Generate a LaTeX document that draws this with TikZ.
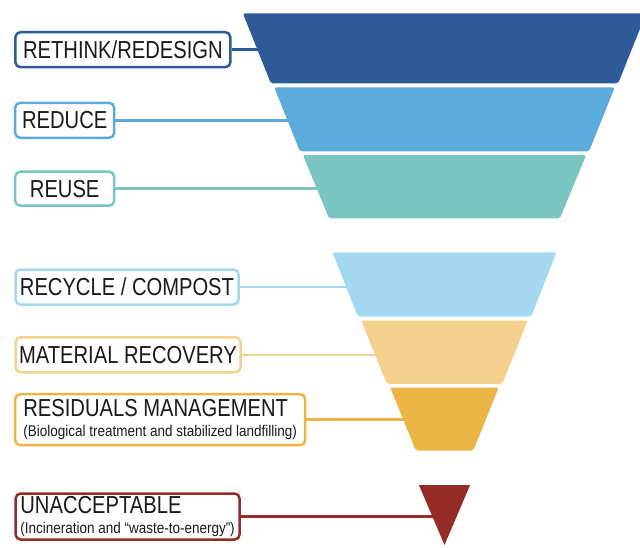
\documentclass[tikz,border=0pt]{standalone}
\usepackage{fontspec}
\setmainfont{Liberation Sans}
\newfontfamily\tierfont[FakeStretch=0.82]{Liberation Sans}
\newfontfamily\notefont[FakeStretch=0.87]{Liberation Sans}
\definecolor{whnavy}{HTML}{2D5B98}
\definecolor{whblue}{HTML}{5BABDB}
\definecolor{whteal}{HTML}{7AC5C1}
\definecolor{whsky}{HTML}{A4D8F0}
\definecolor{whsand}{HTML}{F5D18E}
\definecolor{whgold}{HTML}{EBB545}
\definecolor{whred}{HTML}{952B26}
\definecolor{whink}{HTML}{1A1A1A}

\begin{document}
\begin{tikzpicture}[
  x=1pt, y=-1pt,
  tierbox/.style={rectangle, rounded corners=5pt, draw=#1, fill=white, line width=2.5pt, inner sep=0pt, align=center, text=whink, font=\tierfont\fontsize{24.6}{28}\selectfont},
  tierline/.style={draw=#1, line width=2.5pt},
]
\clip (0,0) rectangle (640,548);

% Label boxes
\node[tierbox=whnavy, minimum width=215pt, minimum height=35pt] (t1) at (122.9, 49.7) {RETHINK/REDESIGN};
\node[tierbox=whblue, minimum width=99pt, minimum height=35pt] (t2) at (64.7, 120.3) {REDUCE};
\node[tierbox=whteal, minimum width=99pt, minimum height=34pt] (t3) at (64.7, 188.7) {REUSE};
\node[tierbox=whsky, minimum width=223pt, minimum height=35pt] (t4) at (127, 287) {RECYCLE / COMPOST};
\node[tierbox=whsand, minimum width=225pt, minimum height=35pt] (t5) at (128, 354.8) {MATERIAL RECOVERY};
\node[tierbox=whgold, minimum width=290pt, minimum height=51pt, align=left] (t6) at (160.2, 419.7)
  {RESIDUALS MANAGEMENT\\[-8pt]{\notefont\fontsize{15.5}{17}\selectfont (Biological treatment and stabilized landfilling)}};
\node[tierbox=whred, minimum width=224pt, minimum height=46pt, align=left] (t7) at (127.6, 516.5)
  {UNACCEPTABLE\\[-8pt]{\notefont\fontsize{15.5}{17}\selectfont (Incineration and “waste-to-energy”)}};

% Ends of the connectors, just inside the funnel
\coordinate (e1) at (261, 49.7);
\coordinate (e2) at (291, 120.3);
\coordinate (e3) at (320, 188.7);
\coordinate (e4) at (350, 287);
\coordinate (e5) at (379, 354.8);
\coordinate (e6) at (407, 419.7);
\coordinate (e7) at (436, 516.5);

\draw[tierline=whnavy] (t1) -- (e1);
\draw[tierline=whblue] (t2) -- (e2);
\draw[tierline=whteal] (t3) -- (e3);
\draw[tierline=whsky] (t4) -- (e4);
\draw[tierline=whsand] (t5) -- (e5);
\draw[tierline=whgold] (t6) -- (e6);
\draw[tierline=whred] (t7) -- (e7);

% Funnel bands
\fill[whnavy, rounded corners=2pt] (242.9,13.5) -- (646.1,13.5) -- (618.1,83.5) -- (270.9,83.5) -- cycle;
\fill[whblue, rounded corners=2pt] (274.3,87.5) -- (614.7,87.5) -- (589,151.5) -- (300,151.5) -- cycle;
\fill[whteal, rounded corners=2pt] (302.9,155) -- (586.1,155) -- (559.9,218.5) -- (329.1,218.5) -- cycle;
\fill[whsky, rounded corners=2pt] (332.5,252.5) -- (556.5,252.5) -- (531.2,316.5) -- (357.8,316.5) -- cycle;
\fill[whsand, rounded corners=2pt] (361.2,320.5) -- (527.8,320.5) -- (502.2,384) -- (386.8,384) -- cycle;
\fill[whgold, rounded corners=2pt] (390.3,387.5) -- (498.7,387.5) -- (473.3,450.5) -- (415.7,450.5) -- cycle;
\fill[whred] (418.9,485) -- (470.1,485) -- (444.5,545) -- cycle;

\end{tikzpicture}
\end{document}
